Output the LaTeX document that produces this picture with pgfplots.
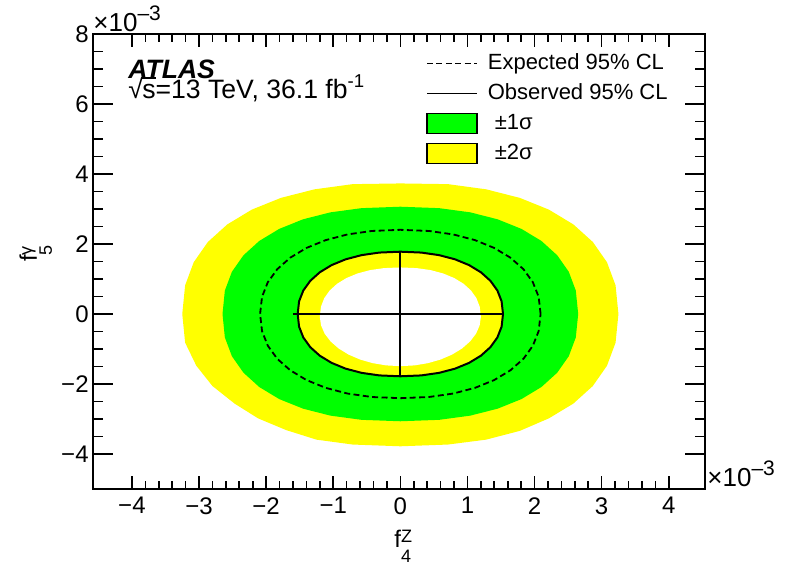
\documentclass[border=0pt]{standalone}
\usepackage{pgfplots}
\pgfplotsset{compat=1.18}
\usepackage{fontspec}
\setmainfont{Liberation Sans}
\definecolor{rootgreen}{RGB}{0,255,0}
\definecolor{rootyellow}{RGB}{255,255,0}
\begin{document}
\begin{tikzpicture}
\path[use as bounding box] (-46.5pt,-38.5pt) rectangle (346.5pt,244.5pt);
\begin{axis}[
  at={(0pt,0pt)}, anchor=south west,
  scale only axis, width=306pt, height=227.5pt,
  xmin=-4.58, xmax=4.54, ymin=-5, ymax=8,
  axis on top, clip mode=individual,
  axis line style={line width=0.9pt},
  tick align=inside,
  xtick={-4,...,4}, xticklabels={−4,−3,−2,−1,0,1,2,3,4},
  ytick={-4,-2,...,8}, yticklabels={−4,−2,0,2,4,6,8},
  minor x tick num=4, minor y tick num=3,
  tick style={line width=0.8pt, black},
  x tick style={/pgfplots/major tick length=6.5pt,/pgfplots/minor tick length=4pt},
  y tick style={/pgfplots/major tick length=10pt,/pgfplots/minor tick length=5pt},
  xticklabel style={font=\fontsize{12}{14}\selectfont, inner sep=0pt, yshift=-4pt},
  yticklabel style={font=\fontsize{12}{14}\selectfont, inner sep=0pt, xshift=-2pt},
  xlabel={\fontsize{12}{14}\selectfont f\rlap{\raisebox{2.5pt}{\fontsize{9}{10}\selectfont Z}}\raisebox{-7.5pt}{\fontsize{9}{10}\selectfont 4}},
  xlabel style={at={(axis description cs:0.506,-0.1286)}, anchor=base, inner sep=0pt},
  legend style={at={(axis cs:0.38,7.58)}, anchor=north west, draw=none, fill=none,
    inner sep=0pt, row sep=0.5pt, column sep=3pt,
    font=\fontsize{11}{13}\selectfont,
    nodes={inner sep=2pt, text height=8pt, text depth=2.5pt}},
  legend cell align=left,
]
% +-2 sigma outer contour
\addplot[fill=rootyellow, draw=none, forget plot] coordinates {
(3.250,0) (3.207,0.820) (3.079,1.479) (2.868,2.058) (2.578,2.560) (2.213,2.982) (1.779,3.318) (1.278,3.562) (0.709,3.710) (0,3.730)
(-0.709,3.710) (-1.278,3.562) (-1.779,3.318) (-2.213,2.982) (-2.578,2.560) (-2.868,2.058) (-3.079,1.479) (-3.207,0.820) (-3.250,0)
(-3.207,-0.820) (-3.040,-1.479) (-2.800,-2.058) (-2.470,-2.560) (-2.120,-2.982) (-1.700,-3.318) (-1.250,-3.590) (-0.709,-3.730) (0,-3.780)
(0.709,-3.730) (1.278,-3.590) (1.779,-3.340) (2.213,-2.982) (2.578,-2.560) (2.868,-2.058) (3.079,-1.479) (3.207,-0.820)
} -- cycle;
% +-1 sigma outer contour
\addplot[fill=rootgreen, draw=none, forget plot] coordinates {
(2.650,0) (2.615,0.669) (2.510,1.206) (2.338,1.677) (2.102,2.087) (1.805,2.431) (1.450,2.705) (1.042,2.904) (0.578,3.024) (0,3.065)
(-0.578,3.024) (-1.042,2.904) (-1.450,2.705) (-1.805,2.431) (-2.102,2.087) (-2.338,1.677) (-2.510,1.206) (-2.615,0.669) (-2.650,0)
(-2.615,-0.669) (-2.510,-1.206) (-2.338,-1.677) (-2.102,-2.087) (-1.805,-2.431) (-1.450,-2.705) (-1.042,-2.904) (-0.578,-3.024) (0,-3.065)
(0.578,-3.024) (1.042,-2.904) (1.450,-2.705) (1.805,-2.431) (2.102,-2.087) (2.338,-1.677) (2.510,-1.206) (2.615,-0.669)
} -- cycle;
% +-1 sigma inner contour
\addplot[fill=rootyellow, draw=none, forget plot] coordinates {
(1.530,0) (1.509,0.362) (1.446,0.671) (1.342,0.948) (1.201,1.191) (1.024,1.397) (0.815,1.562) (0.577,1.682) (0.312,1.755) (0,1.780)
(-0.312,1.755) (-0.577,1.682) (-0.815,1.562) (-1.024,1.397) (-1.201,1.191) (-1.342,0.948) (-1.446,0.671) (-1.509,0.362) (-1.530,0)
(-1.509,-0.362) (-1.446,-0.671) (-1.342,-0.948) (-1.201,-1.191) (-1.024,-1.397) (-0.815,-1.562) (-0.577,-1.682) (-0.312,-1.755) (0,-1.780)
(0.312,-1.755) (0.577,-1.682) (0.815,-1.562) (1.024,-1.397) (1.201,-1.191) (1.342,-0.948) (1.446,-0.671) (1.509,-0.362)
} -- cycle;
% +-2 sigma inner contour
\addplot[fill=white, draw=none, forget plot] coordinates {
(1.200,-0.080) (1.183,0.207) (1.134,0.452) (1.053,0.671) (0.942,0.864) (0.803,1.027) (0.639,1.157) (0.452,1.253) (0.244,1.311) (0,1.330)
(-0.244,1.311) (-0.452,1.253) (-0.639,1.157) (-0.803,1.027) (-0.942,0.864) (-1.053,0.671) (-1.134,0.452) (-1.183,0.207) (-1.200,-0.080)
(-1.182,-0.325) (-1.128,-0.562) (-1.039,-0.785) (-0.919,-0.986) (-0.771,-1.160) (-0.600,-1.301) (-0.410,-1.405) (-0.208,-1.469) (0,-1.490)
(0.208,-1.469) (0.410,-1.405) (0.600,-1.301) (0.771,-1.160) (0.919,-0.986) (1.039,-0.785) (1.128,-0.562) (1.182,-0.325)
} -- cycle;
% expected 95% CL
\addplot[black, line width=0.9pt, dash pattern=on 3pt off 1.7pt, forget plot] coordinates {
(2.090,0) (2.061,0.490) (1.975,0.907) (1.834,1.281) (1.640,1.609) (1.399,1.887) (1.113,2.110) (0.788,2.273) (0.426,2.372) (0,2.405)
(-0.426,2.372) (-0.788,2.273) (-1.113,2.110) (-1.399,1.887) (-1.640,1.609) (-1.834,1.281) (-1.975,0.907) (-2.061,0.490) (-2.090,0)
(-2.061,-0.490) (-1.975,-0.907) (-1.834,-1.281) (-1.640,-1.609) (-1.399,-1.887) (-1.113,-2.110) (-0.788,-2.273) (-0.426,-2.372) (0,-2.405)
(0.426,-2.372) (0.788,-2.273) (1.113,-2.110) (1.399,-1.887) (1.640,-1.609) (1.834,-1.281) (1.975,-0.907) (2.061,-0.490)
} -- cycle;
% observed 95% CL
\addplot[black, line width=1pt, forget plot] coordinates {
(1.530,0) (1.509,0.362) (1.446,0.671) (1.342,0.948) (1.201,1.191) (1.024,1.397) (0.815,1.562) (0.577,1.682) (0.312,1.755) (0,1.780)
(-0.312,1.755) (-0.577,1.682) (-0.815,1.562) (-1.024,1.397) (-1.201,1.191) (-1.342,0.948) (-1.446,0.671) (-1.509,0.362) (-1.530,0)
(-1.509,-0.362) (-1.446,-0.671) (-1.342,-0.948) (-1.201,-1.191) (-1.024,-1.397) (-0.815,-1.562) (-0.577,-1.682) (-0.312,-1.755) (0,-1.780)
(0.312,-1.755) (0.577,-1.682) (0.815,-1.562) (1.024,-1.397) (1.201,-1.191) (1.342,-0.948) (1.446,-0.671) (1.509,-0.362)
} -- cycle;
% cross-hair
\addplot[black, line width=0.9pt, forget plot] coordinates {(-1.60,0) (1.52,0)};
\addplot[black, line width=0.9pt, forget plot] coordinates {(0,-1.80) (0,1.76)};
% legend
\addlegendimage{legend image code/.code={\draw[black, line width=0.8pt, dash pattern=on 3pt off 1.7pt] (0pt,0pt) -- (25pt,0pt);}}
\addlegendentry{Expected 95\% CL}
\addlegendimage{legend image code/.code={\draw[black, line width=0.8pt] (0pt,0pt) -- (25pt,0pt);}}
\addlegendentry{Observed 95\% CL}
\addlegendimage{legend image code/.code={\draw[black, line width=0.8pt, fill=rootgreen] (0pt,-5pt) rectangle (25pt,5pt);}}
\addlegendentry{\hspace{3.5pt}±1σ}
\addlegendimage{legend image code/.code={\draw[black, line width=0.8pt, fill=rootyellow] (0pt,-5pt) rectangle (25pt,5pt);}}
\addlegendentry{\hspace{3.5pt}±2σ}
% texts
\node[rotate=90, anchor=base, inner sep=0pt] at (rel axis cs:-0.0915,0.5176) {\fontsize{12}{14}\selectfont f\rlap{\raisebox{2.5pt}{\fontsize{9}{10}\selectfont γ}}\raisebox{-7.5pt}{\fontsize{9}{10}\selectfont 5}};
\node[anchor=base west, inner sep=0pt, font=\fontsize{13.3}{15}\selectfont\bfseries\itshape] at (axis cs:-4.06,6.73) {ATLAS};
\node[anchor=base west, inner sep=0pt, font=\fontsize{13.3}{15}\selectfont] at (axis cs:-4.06,6.16) {√\kern-0.3pt\rlap{\rule[0.74em]{0.5em}{0.05em}}s=13 TeV, 36.1 fb\textsuperscript{-1}};
\node[anchor=base west, inner sep=0pt, font=\fontsize{13}{15}\selectfont, yshift=1pt] at (rel axis cs:0,1) {×10\raisebox{5.5pt}{\fontsize{10.5}{12}\selectfont –3}};
\node[anchor=base west, inner sep=0pt, font=\fontsize{13}{15}\selectfont, yshift=1pt, xshift=1pt] at (rel axis cs:1,0) {×10\raisebox{5.5pt}{\fontsize{10.5}{12}\selectfont –3}};
\end{axis}
\end{tikzpicture}
\end{document}
